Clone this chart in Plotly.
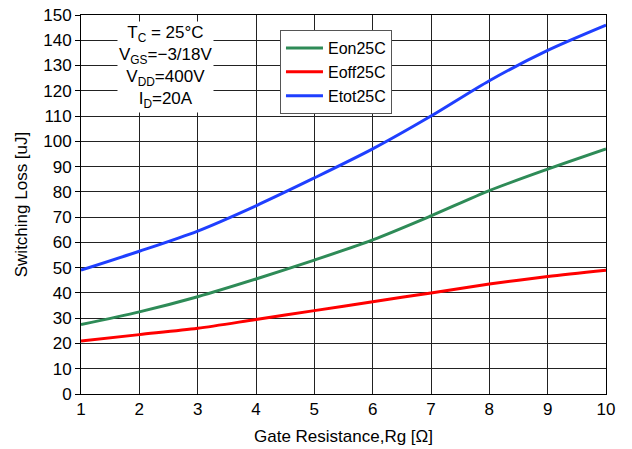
import plotly.graph_objects as go

# Gate resistance (ohm) and switching losses (uJ)
rg = [1, 2, 3, 4, 5, 6, 7, 8, 9, 10]
eon = [27.5, 32.5, 38.5, 45.5, 53, 61, 70.5, 80.5, 89, 97]
eoff = [21, 23.5, 26, 29.5, 33, 36.5, 40, 43.5, 46.5, 49]
etot = [49, 56.5, 64.5, 74.5, 85.5, 97, 110, 124, 136, 146]

series = [
    ("Eon25C", eon, "#2e8b57"),
    ("Eoff25C", eoff, "#ff0000"),
    ("Etot25C", etot, "#1f3fff"),
]

fig = go.Figure()
for name, vals, color in series:
    fig.add_trace(go.Scatter(x=rg, y=vals, name=name, mode="lines",
                             line=dict(color=color, width=3, shape="spline", smoothing=0.8)))

axis_font = dict(family="Liberation Sans, Arial", size=17, color="black")

fig.update_layout(
    width=632, height=449,
    margin=dict(l=81, r=26, t=15, b=55),
    paper_bgcolor="white", plot_bgcolor="white",
    font=axis_font,
    showlegend=True,
    legend=dict(x=0.379, y=0.96, xanchor="left", yanchor="top",
                bgcolor="white", bordercolor="#555", borderwidth=1,
                font=dict(size=16), tracegroupgap=0, itemwidth=37),
    xaxis=dict(range=[1, 10], dtick=1, showgrid=True, gridcolor="#222",
               gridwidth=1, showline=True, linecolor="black", mirror=True,
               zeroline=False, ticks="", tickfont=axis_font, automargin=False,
               ticklabeloverflow="allow",
               title=dict(text="Gate Resistance,Rg [Ω]", font=axis_font, standoff=11)),
    yaxis=dict(range=[0, 150], dtick=10, showgrid=True, gridcolor="#222",
               gridwidth=1, showline=True, linecolor="black", mirror=True,
               zeroline=False, ticks="outside", ticklen=5, tickcolor="black",
               tickfont=axis_font, automargin=False, ticklabeloverflow="allow",
               title=dict(text="Switching Loss [uJ]", font=axis_font, standoff=11)),
)

fig.add_annotation(
    xref="paper", yref="paper", x=0.16, y=0.985, xanchor="center", yanchor="top",
    text="T<sub>C</sub> = 25°C<br>V<sub>GS</sub>=−3/18V<br>V<sub>DD</sub>=400V<br>I<sub>D</sub>=20A",
    showarrow=False, align="center", bgcolor="white",
    font=dict(family="Liberation Sans, Arial", size=17, color="black"),
)

# drop the default 8px body margin so the figure sits at the window corner
fig.write_html("out.html", config={"displayModeBar": False},
               post_script="document.body.style.margin = '0';")
